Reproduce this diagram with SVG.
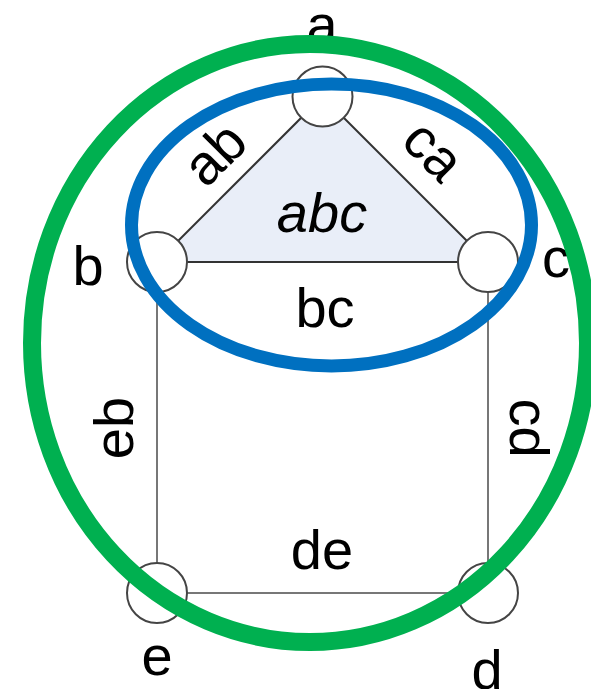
<svg xmlns="http://www.w3.org/2000/svg" width="591" height="689" viewBox="0 0 591 689">
  <style>
    .lbl { font-family: "Liberation Sans", "DejaVu Sans", sans-serif; font-size: 56px; fill: #000; text-anchor: middle; }
    .node { fill: #fff; stroke: #444; stroke-width: 2; }
    .edge { stroke: #333; stroke-width: 2; fill: none; }
    .edge2 { stroke: #777; stroke-width: 2; fill: none; }
    .ell { fill: none; }
  </style>
  <rect width="591" height="689" fill="#fff"/>
  <g id="face-abc">
    <polygon points="322.5,96.5 157,262 488,262" fill="#e9eef8"/>
    <text class="lbl" x="322" y="232" font-style="italic">abc</text>
  </g>
  <g id="connectors">
    <line class="edge" x1="322.5" y1="96.5" x2="157" y2="262"/>
    <line class="edge" x1="322.5" y1="96.5" x2="488" y2="262"/>
    <line class="edge" x1="157" y1="262" x2="488" y2="262"/>
    <line class="edge2" x1="157" y1="262" x2="157" y2="593"/>
    <line class="edge2" x1="488" y1="262" x2="488" y2="593"/>
    <line class="edge2" x1="157" y1="593" x2="488" y2="593"/>
    <text class="lbl" transform="translate(214,153) rotate(-45)" y="20">ab</text>
    <text class="lbl" transform="translate(430,154) rotate(45)" y="14">ca</text>
    <text class="lbl" x="325" y="327">bc</text>
    <text class="lbl" transform="translate(113,428) rotate(-90)" y="20">eb</text>
    <text class="lbl" transform="translate(530,428) rotate(90)" y="20">cd</text>
    <text class="lbl" x="322" y="569">de</text>
  </g>
  <g id="node-a">
    <circle class="node" cx="322.5" cy="96.5" r="30"/>
    <text class="lbl" x="322" y="44">a</text>
  </g>
  <g id="node-b">
    <circle class="node" cx="157" cy="262" r="30"/>
    <text class="lbl" x="88" y="285">b</text>
  </g>
  <g id="node-c">
    <circle class="node" cx="488" cy="262" r="30"/>
    <text class="lbl" x="556" y="277" font-size="52">c</text>
  </g>
  <g id="node-e">
    <circle class="node" cx="157" cy="593" r="30"/>
    <text class="lbl" x="157" y="675">e</text>
  </g>
  <g id="node-d">
    <circle class="node" cx="488" cy="593" r="30"/>
    <text class="lbl" x="487" y="689">d</text>
  </g>
  <g id="set-blue">
    <ellipse class="ell" cx="331.5" cy="225" rx="200" ry="141" stroke="#0070c0" stroke-width="13"/>
  </g>
  <g id="set-green">
    <ellipse class="ell" cx="310" cy="343" rx="278" ry="299" stroke="#00b050" stroke-width="18"/>
  </g>
</svg>
